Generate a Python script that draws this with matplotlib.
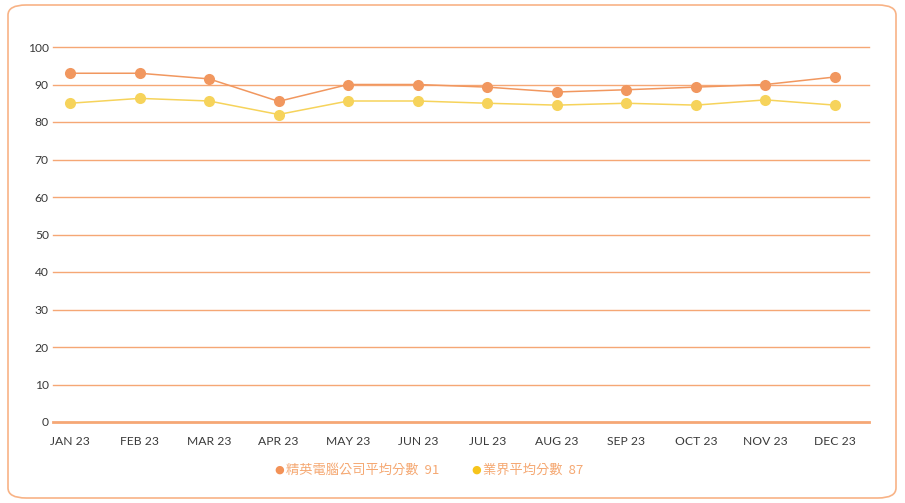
import matplotlib
matplotlib.use("Agg")
import matplotlib.pyplot as plt
from matplotlib.patches import FancyBboxPatch

months = ["JAN 23", "FEB 23", "MAR 23", "APR 23", "MAY 23", "JUN 23",
          "JUL 23", "AUG 23", "SEP 23", "OCT 23", "NOV 23", "DEC 23"]
acer_scores = [93, 93, 91.5, 85.5, 90, 90, 89.3, 88, 88.6, 89.3, 90, 92]
industry_scores = [85, 86.3, 85.6, 82, 85.6, 85.6, 85, 84.5, 85, 84.5, 85.9, 84.5]
legend_labels = ["精英電腦公司平均分數", "業界平均分數"]
legend_values = ["91", "87"]
yticks = [0, 10, 20, 30, 40, 50, 60, 70, 80, 90, 100]

plt.rcParams['font.family'] = ['Lato', 'Noto Sans CJK TC', 'DejaVu Sans']

W, H = 905, 503
fig = plt.figure(figsize=(W / 100, H / 100), dpi=100)
fig.patch.set_facecolor("white")

# rounded border
border = FancyBboxPatch((8 / W, 5 / H), 888 / W, 493 / H,
                        boxstyle="round,pad=0,rounding_size=0.02",
                        transform=fig.transFigure, fill=False,
                        edgecolor="#f8b386", linewidth=1.2)
fig.patches.append(border)

ax = fig.add_axes([53 / W, 81 / H, (869 - 53) / W, (422 - 47) / H])
x = list(range(len(months)))

orange = "#f1975f"
yellow = "#f6d35b"
grid = "#f5a775"

for yv in yticks:
    ax.axhline(yv, color=grid, linewidth=1.0 if yv else 2.0, zorder=1, clip_on=False)

ax.plot(x, acer_scores, color=orange, linewidth=1.1, marker="o",
        markersize=8, markeredgewidth=0, zorder=3)
ax.plot(x, industry_scores, color=yellow, linewidth=1.1, marker="o",
        markersize=8, markeredgewidth=0, zorder=3)

ax.set_xlim(-0.245, 11.49)
ax.set_ylim(0, 100)
ax.set_yticks(yticks)
ax.set_xticks(x)
ax.set_xticklabels(months)
ax.tick_params(axis="both", length=0, labelsize=8.7, colors="#3a3a3a")
ax.tick_params(axis="x", pad=10)
ax.tick_params(axis="y", pad=3)
for s in ax.spines.values():
    s.set_visible(False)
ax.set_facecolor("none")

# legend
ty = 1 - 470 / H
legend_text_color = "#f5a872"
fig.text(279 / W, ty, "●", color="#f39257", fontsize=8, ha="center", va="center",
         family=["DejaVu Sans"])
fig.text(286 / W, ty, legend_labels[0] + "  " + legend_values[0], color=legend_text_color,
         fontsize=9.5, ha="left", va="center", weight="medium",
         family=["Noto Sans CJK TC", "DejaVu Sans"])
fig.text(476 / W, ty, "●", color="#f6c41c", fontsize=8, ha="center", va="center",
         family=["DejaVu Sans"])
fig.text(483 / W, ty, legend_labels[1] + "  " + legend_values[1], color=legend_text_color,
         fontsize=9.5, ha="left", va="center", weight="medium",
         family=["Noto Sans CJK TC", "DejaVu Sans"])

fig.savefig("out.png", dpi=100)
